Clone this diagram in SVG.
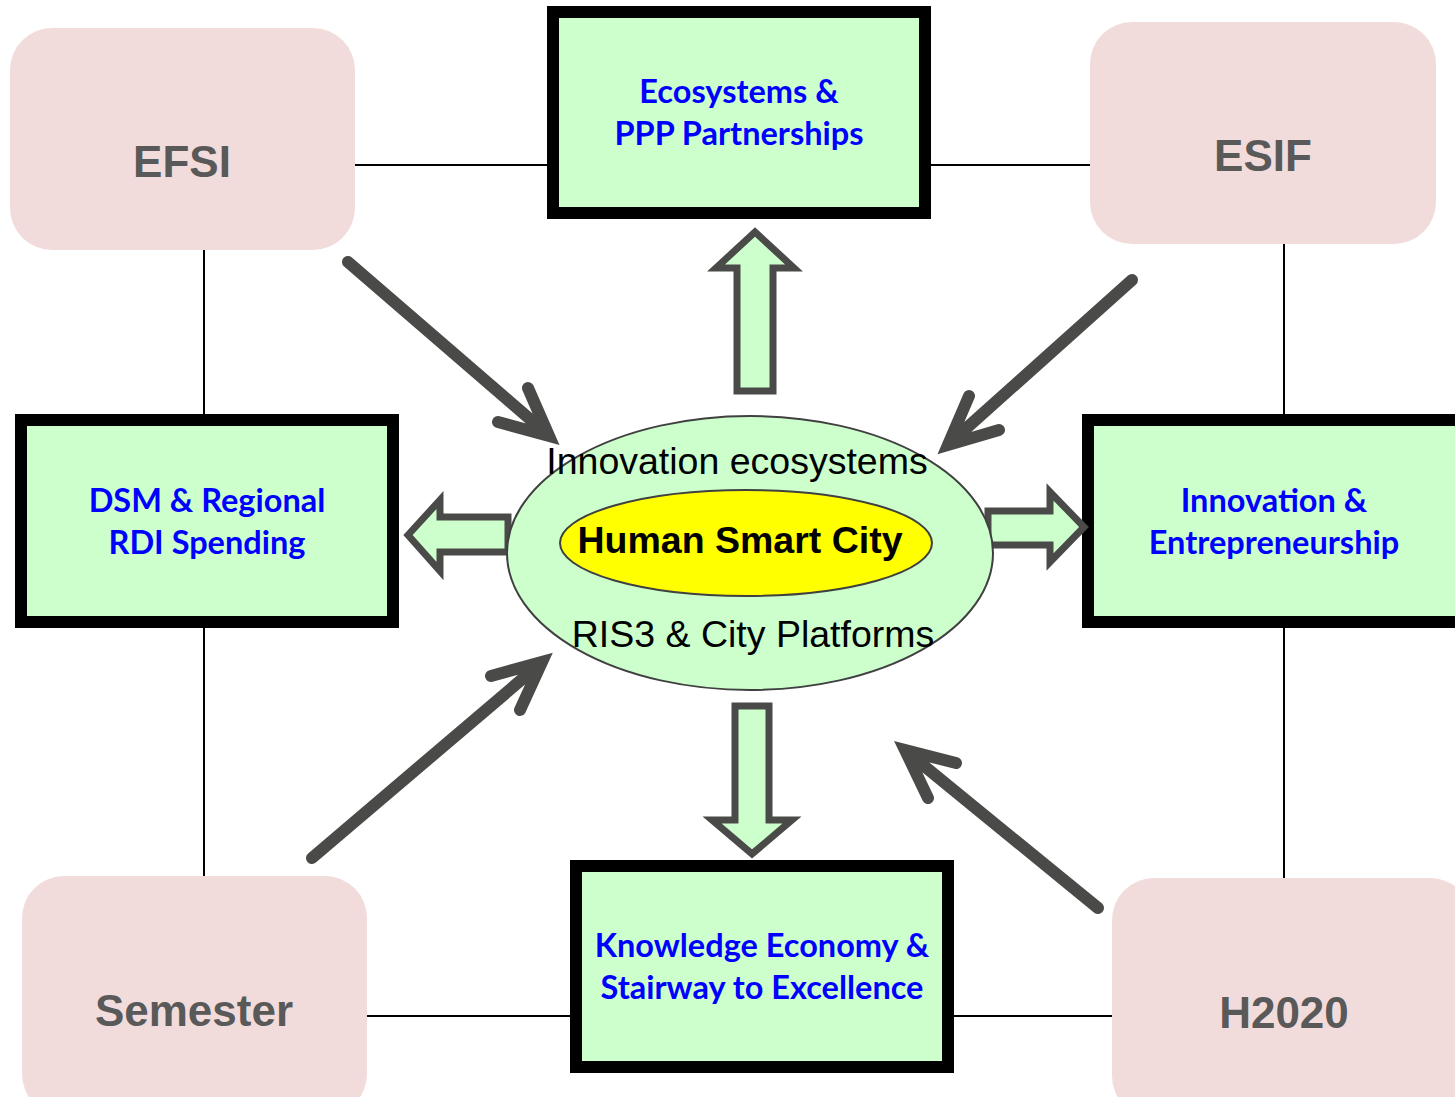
<svg xmlns="http://www.w3.org/2000/svg" width="1455" height="1097" viewBox="0 0 1455 1097">
<style>
.src rect{fill:#f2dcdb;}
.src text{font-family:"Liberation Sans",Arial,sans-serif;font-weight:bold;font-size:44px;fill:#595959;text-anchor:middle;}
.box rect{fill:#ccffcc;stroke:#000;stroke-width:12;}
.box text{font-family:Lato,"Open Sans",sans-serif;font-weight:bold;font-size:32.5px;fill:#0000ff;text-anchor:middle;}
.conn line{stroke:#000;stroke-width:2;}
.garrow{fill:none;stroke:#4a4a48;stroke-width:12;stroke-linecap:round;stroke-linejoin:miter;}
.barrow{fill:#ccffcc;stroke:#4a4a48;stroke-width:7;stroke-linejoin:miter;}
.ctext{font-family:"Liberation Sans",Arial,sans-serif;font-size:37.5px;fill:#000;text-anchor:middle;}
</style>
<rect width="1455" height="1097" fill="#fff"/>
<g id="connectors" class="conn">
<line x1="355" y1="165" x2="550" y2="165"/>
<line x1="928" y1="165" x2="1090" y2="165"/>
<line x1="204" y1="250" x2="204" y2="416"/>
<line x1="204" y1="626" x2="204" y2="876"/>
<line x1="1284" y1="244" x2="1284" y2="416"/>
<line x1="1284" y1="626" x2="1284" y2="878"/>
<line x1="367" y1="1016" x2="573" y2="1016"/>
<line x1="951" y1="1016" x2="1112" y2="1016"/>
</g>
<g id="EFSI" class="src"><rect x="10" y="28" width="345" height="222" rx="42"/><text x="182" y="177">EFSI</text></g>
<g id="ESIF" class="src"><rect x="1090" y="22" width="346" height="222" rx="42"/><text x="1263" y="171">ESIF</text></g>
<g id="Semester" class="src"><rect x="22" y="876" width="345" height="240" rx="42"/><text x="194" y="1026">Semester</text></g>
<g id="H2020" class="src"><rect x="1112" y="878" width="360" height="240" rx="42"/><text x="1284" y="1028">H2020</text></g>
<g id="ecosystems" class="box"><rect x="553" y="12" width="372" height="201"/><text x="739" y="103">Ecosystems &amp;</text><text x="739" y="145">PPP Partnerships</text></g>
<g id="dsm" class="box"><rect x="21" y="420" width="372" height="202"/><text x="207" y="512">DSM &amp; Regional</text><text x="207" y="554">RDI Spending</text></g>
<g id="innovation" class="box"><rect x="1088" y="420" width="380" height="202"/><text x="1274" y="512">Innovation &amp;</text><text x="1274" y="554">Entrepreneurship</text></g>
<g id="knowledge" class="box"><rect x="576" y="866" width="372" height="201"/><text x="762" y="957">Knowledge Economy &amp;</text><text x="762" y="999">Stairway to Excellence</text></g>
<g id="arrows">
<path class="garrow" d="M348 262 L546 433 M528 388 L549 436 L498 422"/>
<path class="garrow" d="M1132 280 L951 442 M969 396 L948 445 L999 430"/>
<path class="garrow" d="M312 858 L540 664 M520 710 L542 662 L491 676"/>
<path class="garrow" d="M1098 908 L907 752 M928 798 L905 750 L956 763"/>
<path class="barrow" d="M737 391 L737 268 L716 268 L755 232 L794 268 L773 268 L773 391 Z"/>
<path class="barrow" d="M735 706 L769 706 L769 820 L792 820 L752 854 L712 820 L735 820 Z"/>
<path class="barrow" d="M408 535 L440 500 L440 517 L508 517 L508 552 L440 552 L440 571 Z"/>
<path class="barrow" d="M988 511 L1050 511 L1050 492 L1084 527 L1050 562 L1050 545 L988 545 Z"/>
</g>
<g id="center">
<ellipse cx="750" cy="553" rx="243" ry="137" fill="#ccffcc" stroke="#404040" stroke-width="2"/>
<ellipse cx="746" cy="543" rx="186" ry="53" fill="#ffff00" stroke="#404040" stroke-width="2"/>
<text class="ctext" x="737" y="474">Innovation ecosystems</text>
<text class="ctext" x="740" y="553" font-weight="bold" font-size="35">Human Smart City</text>
<text class="ctext" x="753" y="647">RIS3 &amp; City Platforms</text>
</g>
</svg>
